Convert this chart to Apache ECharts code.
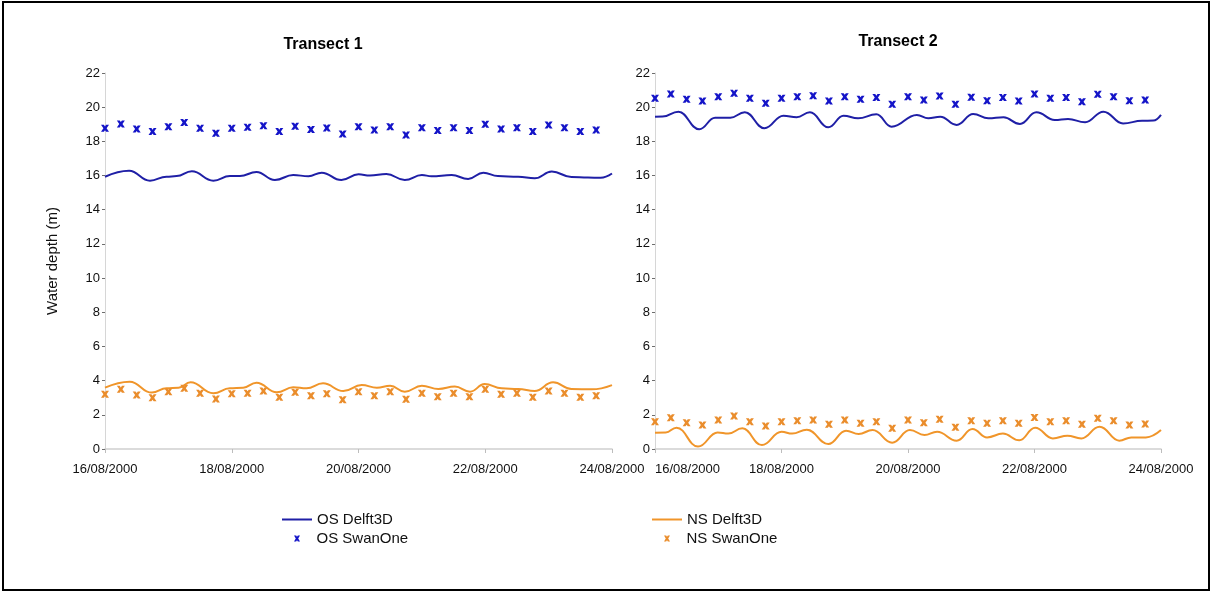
<!DOCTYPE html>
<html>
<head>
<meta charset="utf-8">
<title>Water depth – Transect 1 and 2</title>
<script src="https://cdn.jsdelivr.net/npm/echarts@6/dist/echarts.min.js"></script>
<style>
  html, body { margin: 0; padding: 0; background: #ffffff; }
  #chart { width: 1212px; height: 592px; }
</style>
</head>
<body>
<div id="chart"></div>
<script>
// Tick labels for the time axis (days since 16/08/2000, one label every 2 days)
const dateLabels = ['16/08/2000', '18/08/2000', '20/08/2000', '22/08/2000', '24/08/2000'];
const panelTitles = ['Transect 1', 'Transect 2'];
const seriesNames = ['OS Delft3D', 'OS SwanOne', 'NS Delft3D', 'NS SwanOne'];

// SwanOne output times (days since 16/08/2000 00:00, every 6 hours)
const swanTimes = [0, 0.25, 0.5, 0.75, 1, 1.25, 1.5, 1.75, 2, 2.25, 2.5, 2.75, 3, 3.25, 3.5, 3.75,
                   4, 4.25, 4.5, 4.75, 5, 5.25, 5.5, 5.75, 6, 6.25, 6.5, 6.75, 7, 7.25, 7.5, 7.75];

// Transect 1 – offshore station (OS)
const t1OsSwan = [18.76, 19.02, 18.72, 18.57, 18.86, 19.10, 18.76, 18.47, 18.76, 18.82, 18.92, 18.57, 18.88, 18.69, 18.78, 18.43,
                  18.86, 18.67, 18.86, 18.37, 18.80, 18.63, 18.80, 18.63, 19.00, 18.72, 18.80, 18.57, 18.96, 18.80, 18.57, 18.67];
const t1OsDelftT = [0.00, 0.38, 0.71, 0.97, 1.13, 1.37, 1.71, 1.97, 2.13, 2.39, 2.68, 2.97, 3.21, 3.42, 3.73, 4.00,
                    4.18, 4.44, 4.73, 5.00, 5.15, 5.47, 5.73, 5.97, 6.20, 6.52, 6.78, 7.05, 7.36, 7.62, 7.82, 8.00];
const t1OsDelftV = [15.93, 16.28, 15.70, 15.93, 15.97, 16.25, 15.70, 15.97, 15.97, 16.21, 15.74, 16.03, 15.96, 16.17, 15.74, 16.07,
                    16.00, 16.09, 15.74, 16.03, 15.96, 16.03, 15.80, 16.17, 15.97, 15.93, 15.84, 16.23, 15.92, 15.88, 15.87, 16.12];

// Transect 1 – nearshore station (NS)
const t1NsSwan = [3.20, 3.49, 3.16, 3.00, 3.35, 3.55, 3.26, 2.93, 3.24, 3.26, 3.39, 3.03, 3.32, 3.12, 3.24, 2.88,
                  3.35, 3.12, 3.35, 2.91, 3.26, 3.06, 3.26, 3.06, 3.49, 3.20, 3.26, 3.03, 3.39, 3.26, 3.03, 3.12];
const t1NsDelftT = [0.00, 0.39, 0.74, 0.97, 1.16, 1.35, 1.71, 1.97, 2.18, 2.39, 2.71, 2.97, 3.18, 3.44, 3.76, 4.05,
                    4.29, 4.50, 4.73, 5.00, 5.26, 5.52, 5.76, 5.99, 6.26, 6.52, 6.78, 7.07, 7.36, 7.68, 8.00];
const t1NsDelftV = [3.59, 3.94, 3.30, 3.55, 3.59, 3.90, 3.26, 3.55, 3.59, 3.88, 3.32, 3.61, 3.55, 3.84, 3.39, 3.74,
                    3.59, 3.70, 3.35, 3.70, 3.51, 3.65, 3.35, 3.80, 3.55, 3.51, 3.39, 3.90, 3.51, 3.49, 3.74];

// Transect 2 – offshore station (OS)
const t2OsSwan = [20.52, 20.77, 20.46, 20.36, 20.61, 20.81, 20.52, 20.23, 20.52, 20.61, 20.67, 20.36, 20.61, 20.46, 20.56, 20.17,
                  20.61, 20.42, 20.66, 20.17, 20.58, 20.38, 20.56, 20.36, 20.77, 20.52, 20.56, 20.32, 20.75, 20.61, 20.38, 20.42];
const t2OsDelftT = [0.00, 0.12, 0.37, 0.70, 0.95, 1.19, 1.42, 1.73, 2.03, 2.24, 2.45, 2.74, 2.98, 3.21, 3.50, 3.74,
                    4.14, 4.32, 4.51, 4.77, 5.03, 5.27, 5.51, 5.77, 6.03, 6.32, 6.53, 6.80, 7.09, 7.40, 7.70, 7.88, 8.00];
const t2OsDelftV = [19.44, 19.45, 19.74, 18.71, 19.38, 19.38, 19.70, 18.77, 19.50, 19.41, 19.70, 18.82, 19.50, 19.35, 19.58, 18.86,
                    19.54, 19.35, 19.44, 18.96, 19.60, 19.35, 19.41, 19.02, 19.70, 19.25, 19.31, 19.12, 19.74, 19.05, 19.20, 19.22, 19.55];

// Transect 2 – nearshore station (NS)
const t2NsSwan = [1.60, 1.83, 1.54, 1.40, 1.70, 1.93, 1.60, 1.35, 1.60, 1.66, 1.70, 1.45, 1.70, 1.50, 1.60, 1.21,
                  1.70, 1.54, 1.74, 1.27, 1.66, 1.50, 1.66, 1.50, 1.85, 1.60, 1.66, 1.45, 1.80, 1.66, 1.40, 1.46];
const t2NsDelftT = [0.00, 0.17, 0.34, 0.68, 0.99, 1.16, 1.38, 1.69, 2.00, 2.17, 2.40, 2.74, 3.02, 3.22, 3.44, 3.75,
                    4.03, 4.26, 4.46, 4.77, 5.02, 5.25, 5.50, 5.76, 6.01, 6.29, 6.52, 6.74, 7.03, 7.34, 7.53, 7.76, 8.00];
const t2NsDelftV = [0.95, 0.97, 1.25, 0.14, 0.97, 0.90, 1.21, 0.23, 1.01, 0.90, 1.13, 0.29, 1.07, 0.88, 1.11, 0.37,
                    1.11, 0.82, 1.01, 0.49, 1.17, 0.68, 0.90, 0.51, 1.25, 0.62, 0.78, 0.62, 1.30, 0.49, 0.68, 0.68, 1.11];

const FONT = '"Liberation Sans", Arial, Helvetica, sans-serif';
const OS_LINE = '#1f1fa6';
const OS_MARK = '#1414c8';
const NS_LINE = '#f0952a';
const NS_MARK = '#ea8d2c';
// bold "x" marker
const CROSS = 'path://M0,0L3.6,0L5,2.2L6.4,0L10,0L7,5L10,10L6.4,10L5,7.8L3.6,10L0,10L3,5Z';

const zip = (xs, ys) => xs.map((x, i) => [x, ys[i]]);

function xAxisFor(gridIndex, extraLabel) {
  return {
    type: 'value', gridIndex: gridIndex, min: 0, max: 8, interval: 2,
    axisLine: { show: true, lineStyle: { color: '#cfcfcf', width: 1.5 } },
    axisTick: { show: true, length: 4, lineStyle: { color: '#bdbdbd' } },
    splitLine: { show: false },
    axisLabel: Object.assign({
      show: true, margin: 14, fontSize: 13, color: '#111', fontFamily: FONT,
      showMinLabel: true, showMaxLabel: true,
      formatter: v => dateLabels[Math.round(v / 2)]
    }, extraLabel || {})
  };
}

function yAxisFor(gridIndex, withName) {
  const ax = {
    type: 'value', gridIndex: gridIndex, min: 0, max: 22, interval: 2,
    axisLine: { show: true, lineStyle: { color: '#d6d6d6', width: 1 } },
    axisTick: { show: true, length: 3, lineStyle: { color: '#6e6e6e' } },
    splitLine: { show: false },
    axisLabel: { margin: 5, fontSize: 13, color: '#111', fontFamily: FONT }
  };
  if (withName) {
    ax.name = 'Water depth (m)';
    ax.nameLocation = 'middle';
    ax.nameGap = 45;
    ax.nameTextStyle = { fontSize: 15, color: '#111', fontFamily: FONT };
  }
  return ax;
}

function lineSeries(name, idx, t, v, color) {
  return {
    name: name, type: 'line', xAxisIndex: idx, yAxisIndex: idx,
    data: zip(t, v), symbol: 'none', showSymbol: false,
    smooth: 0.45, smoothMonotone: 'x',
    lineStyle: { color: color, width: 2 }, itemStyle: { color: color },
    animation: false, z: 2
  };
}

function scatterSeries(name, idx, v, color) {
  return {
    name: name, type: 'scatter', xAxisIndex: idx, yAxisIndex: idx,
    data: zip(swanTimes, v), symbol: CROSS, symbolSize: [8, 7],
    itemStyle: { color: color, opacity: 1 },
    animation: false, z: 3
  };
}

function legendBlock(left, top, name, icon, w, h, textShift) {
  return {
    left: left, top: top, orient: 'vertical', selectedMode: false,
    itemWidth: w, itemHeight: h, itemGap: 4, padding: 0,
    textStyle: { fontSize: 15, color: '#111', fontFamily: FONT, padding: [0, 0, 0, textShift] },
    data: [{ name: name, icon: icon }]
  };
}

const chart = echarts.init(document.getElementById('chart'), null, { renderer: 'canvas' });

chart.setOption({
  backgroundColor: '#ffffff',
  animation: false,
  textStyle: { fontFamily: FONT },
  grid: [
    { left: 105, top: 73, width: 507, height: 376 },
    { left: 655, top: 73, width: 506, height: 376 }
  ],
  xAxis: [ xAxisFor(0), xAxisFor(1, { alignMinLabel: 'left' }) ],
  yAxis: [ yAxisFor(0, true), yAxisFor(1, false) ],
  legend: [
    legendBlock(282, 512, seriesNames[0], 'rect', 30, 2, 0),
    legendBlock(294, 531, seriesNames[1], CROSS, 7, 6, 11),
    legendBlock(652, 512, seriesNames[2], 'rect', 30, 2, 0),
    legendBlock(664, 531, seriesNames[3], CROSS, 7, 6, 11)
  ],
  graphic: [
    { type: 'rect', shape: { x: 3, y: 2, width: 1206, height: 588 },
      style: { fill: 'none', stroke: '#000', lineWidth: 2 }, silent: true },
    { type: 'text', x: 323, y: 45,
      style: { text: panelTitles[0], font: 'bold 16px ' + FONT, fill: '#000', align: 'center', verticalAlign: 'middle' } },
    { type: 'text', x: 898, y: 42,
      style: { text: panelTitles[1], font: 'bold 16px ' + FONT, fill: '#000', align: 'center', verticalAlign: 'middle' } }
  ],
  series: [
    lineSeries(seriesNames[0], 0, t1OsDelftT, t1OsDelftV, OS_LINE),
    scatterSeries(seriesNames[1], 0, t1OsSwan, OS_MARK),
    lineSeries(seriesNames[2], 0, t1NsDelftT, t1NsDelftV, NS_LINE),
    scatterSeries(seriesNames[3], 0, t1NsSwan, NS_MARK),
    lineSeries(seriesNames[0], 1, t2OsDelftT, t2OsDelftV, OS_LINE),
    scatterSeries(seriesNames[1], 1, t2OsSwan, OS_MARK),
    lineSeries(seriesNames[2], 1, t2NsDelftT, t2NsDelftV, NS_LINE),
    scatterSeries(seriesNames[3], 1, t2NsSwan, NS_MARK)
  ]
});
</script>
</body>
</html>
